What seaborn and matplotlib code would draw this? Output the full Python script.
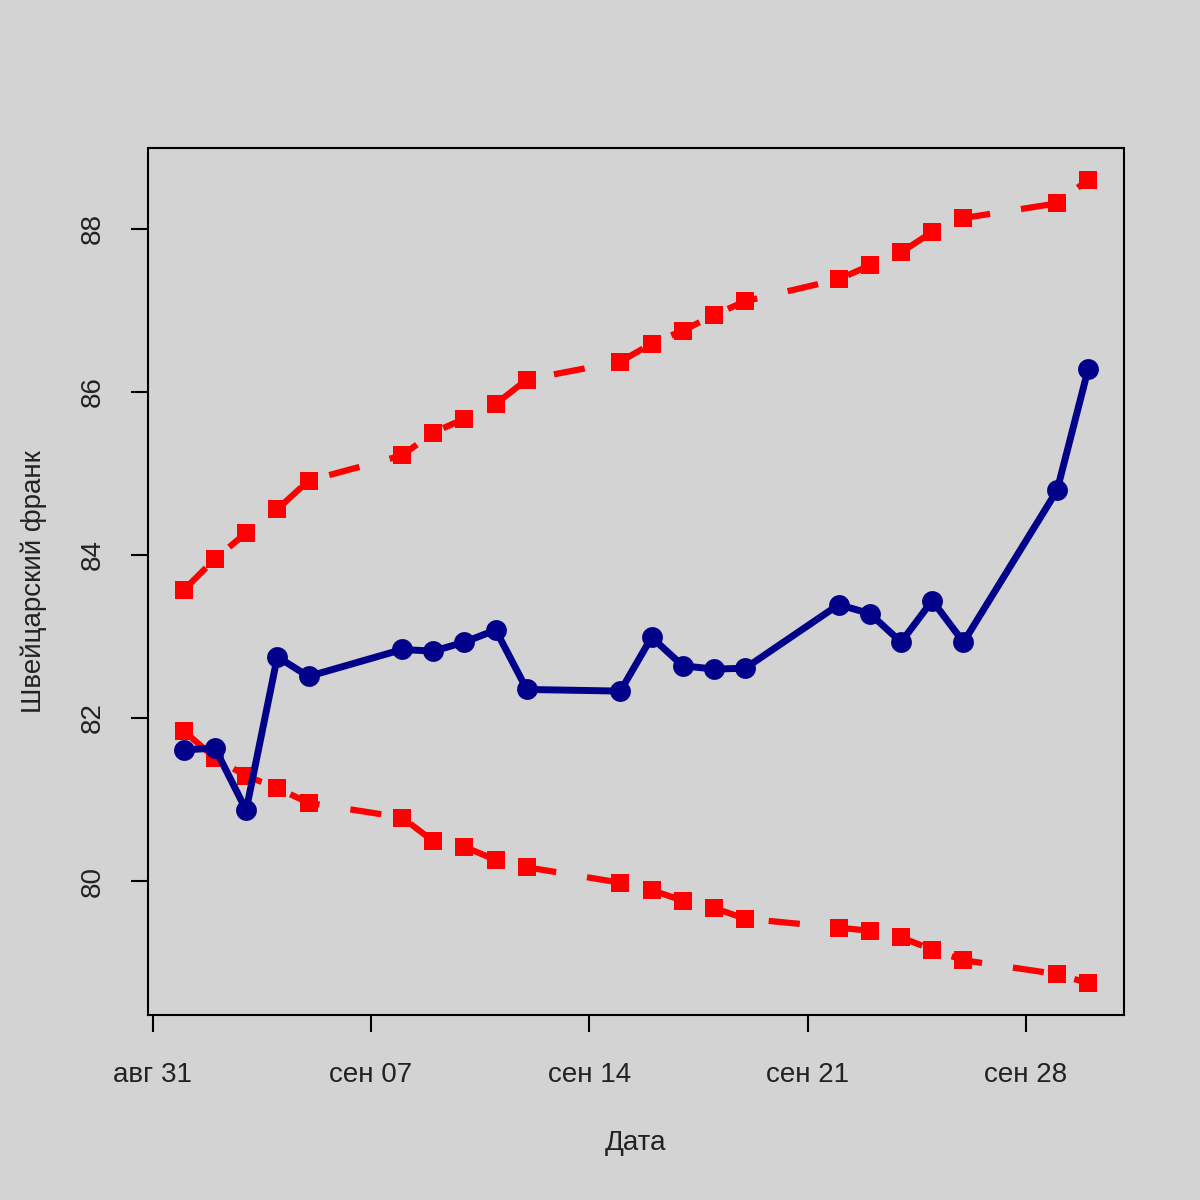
import pandas as pd
import numpy as np
import matplotlib.pyplot as plt
import seaborn as sns

dates = pd.to_datetime([
    "2014-09-01", "2014-09-02", "2014-09-03", "2014-09-04", "2014-09-05",
    "2014-09-08", "2014-09-09", "2014-09-10", "2014-09-11", "2014-09-12",
    "2014-09-15", "2014-09-16", "2014-09-17", "2014-09-18", "2014-09-19",
    "2014-09-22", "2014-09-23", "2014-09-24", "2014-09-25", "2014-09-26",
    "2014-09-29", "2014-09-30"])

chf = [81.61, 81.63, 80.87, 82.75, 82.51,
       82.84, 82.82, 82.93, 83.08, 82.35,
       82.33, 82.99, 82.64, 82.60, 82.61,
       83.39, 83.28, 82.93, 83.44, 82.93,
       84.79, 86.28]

upper = [83.57, 83.95, 84.27, 84.56, 84.91,
         85.22, 85.50, 85.67, 85.85, 86.15,
         86.37, 86.59, 86.75, 86.94, 87.11,
         87.38, 87.55, 87.71, 87.96, 88.13,
         88.31, 88.60]

lower = [81.84, 81.51, 81.29, 81.14, 80.96,
         80.78, 80.49, 80.42, 80.26, 80.17,
         79.98, 79.89, 79.76, 79.67, 79.54,
         79.43, 79.39, 79.31, 79.16, 79.03,
         78.86, 78.75]

tick_dates = pd.to_datetime(["2014-08-31", "2014-09-07", "2014-09-14", "2014-09-21", "2014-09-28"])
tick_labels = ["авг 31", "сен 07", "сен 14", "сен 21", "сен 28"]
y_ticks = [80, 82, 84, 86, 88]

df = pd.DataFrame({"date": dates, "chf": chf, "upper": upper, "lower": lower})

sns.set_theme(style="white")
plt.rcParams['font.family'] = ['Liberation Sans', 'DejaVu Sans']
bg = '#D3D3D3'

fig = plt.figure(figsize=(12, 12), dpi=100, facecolor=bg)
ax = fig.add_axes([0.123, 0.154, 0.814, 0.723])
ax.set_facecolor(bg)

# confidence band lines, red dashed with squares
for col in ["upper", "lower"]:
    sns.lineplot(data=df, x="date", y=col, ax=ax, color='#FF0000',
                 linewidth=4.5, linestyle=(0, (5, 5)), marker='s',
                 markersize=13, markeredgewidth=0)
sns.lineplot(data=df, x="date", y="chf", ax=ax, color='#00008B',
             linewidth=5, marker='o', markersize=15, markeredgewidth=0)

span = (dates[-1] - dates[0]) * 0.04
ax.set_xlim(dates[0] - span, dates[-1] + span)
yr = max(upper) - min(lower)
ax.set_ylim(min(lower) - 0.04 * yr, max(upper) + 0.04 * yr)

ax.set_xticks(tick_dates)
ax.set_xticklabels(tick_labels)
ax.set_yticks(y_ticks)
ax.set_yticklabels([str(v) for v in y_ticks], rotation=90, va='center')

ax.tick_params(axis='both', direction='out', length=12, width=1.5,
               color='black', labelsize=20, labelcolor='#222222',
               bottom=True, left=True)
ax.tick_params(axis='x', pad=22)
ax.tick_params(axis='y', pad=18)
for s in ax.spines.values():
    s.set_visible(True)
    s.set_color('black')
    s.set_linewidth(1.5)

ax.set_xlabel("Дата", fontsize=20, color='#222222', labelpad=30)
ax.set_ylabel("Швейцарский франк", fontsize=20, color='#222222', labelpad=24)

fig.savefig("out.png", dpi=100, facecolor=bg)
